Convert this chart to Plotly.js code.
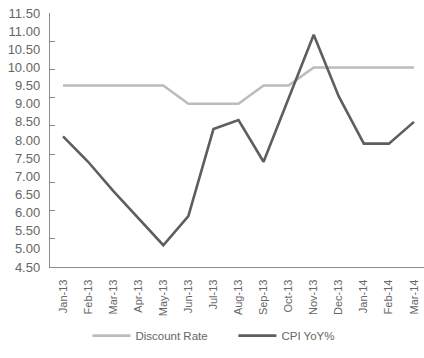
<!DOCTYPE html>
<html>
<head>
<meta charset="utf-8">
<script src="https://cdn.plot.ly/plotly-3.0.1.min.js"></script>
<style>
html,body{margin:0;padding:0;background:#fff;}
#chart{width:424px;height:358px;}
</style>
</head>
<body>
<div id="chart"></div>
<script>
const months = ["Jan-13","Feb-13","Mar-13","Apr-13","May-13","Jun-13","Jul-13","Aug-13","Sep-13","Oct-13","Nov-13","Dec-13","Jan-14","Feb-14","Mar-14"];
const discountRate = [9.5,9.5,9.5,9.5,9.5,9.0,9.0,9.0,9.5,9.5,10.0,10.0,10.0,10.0,10.0];
const cpiYoY = [8.1,7.4,6.6,5.85,5.1,5.9,8.3,8.55,7.4,9.15,10.9,9.2,7.9,7.9,8.5];
const yTickVals = [4.5,5,5.5,6,6.5,7,7.5,8,8.5,9,9.5,10,10.5,11,11.5];

const traces = [
  {x: months, y: discountRate, name: "Discount Rate", type: "scatter", mode: "lines",
   line: {color: "#bcbcbd", width: 2.6}},
  {x: months, y: cpiYoY, name: "CPI YoY%", type: "scatter", mode: "lines",
   line: {color: "#5e5e5f", width: 2.6}},
  {x: [], y: [], yaxis: "y2", type: "scatter", mode: "lines", showlegend: false, hoverinfo: "skip"}
];

const layout = {
  width: 424, height: 358,
  margin: {l: 50, r: 0, t: 13, b: 91},
  paper_bgcolor: "#fff", plot_bgcolor: "#fff",
  font: {family: "Liberation Sans, Arial, sans-serif", color: "#666"},
  showlegend: true,
  legend: {orientation: "h", x: 0.1, xanchor: "left", y: -0.27, yanchor: "middle",
           font: {size: 11.5, color: "#666"}, itemwidth: 38,
           entrywidth: 93, entrywidthmode: "pixels"},
  xaxis: {type: "category", range: [-0.52, 14.4], showgrid: false, zeroline: false,
          showline: true, linecolor: "#8c8c8c", linewidth: 1.2, ticks: "",
          tickangle: -90, tickfont: {size: 11, color: "#666"}, ticklabelstandoff: 7},
  yaxis: {range: [4.5, 11.5], tickvals: yTickVals, ticktext: yTickVals.map(v => v.toFixed(2)),
          showgrid: false, zeroline: false, showline: true, linecolor: "#8c8c8c", linewidth: 1.2,
          ticks: "", tickfont: {size: 13, color: "#666"}, ticklabelstandoff: 6},
  yaxis2: {overlaying: "y", side: "left", anchor: "x", range: [0, 9], dtick: 1, tick0: 0,
           ticks: "inside", ticklen: 5, tickcolor: "#8c8c8c", tickwidth: 1.2,
           showticklabels: false, showgrid: false, zeroline: false, showline: false}
};

Plotly.newPlot("chart", traces, layout, {displayModeBar: false, staticPlot: true});
</script>
</body>
</html>
